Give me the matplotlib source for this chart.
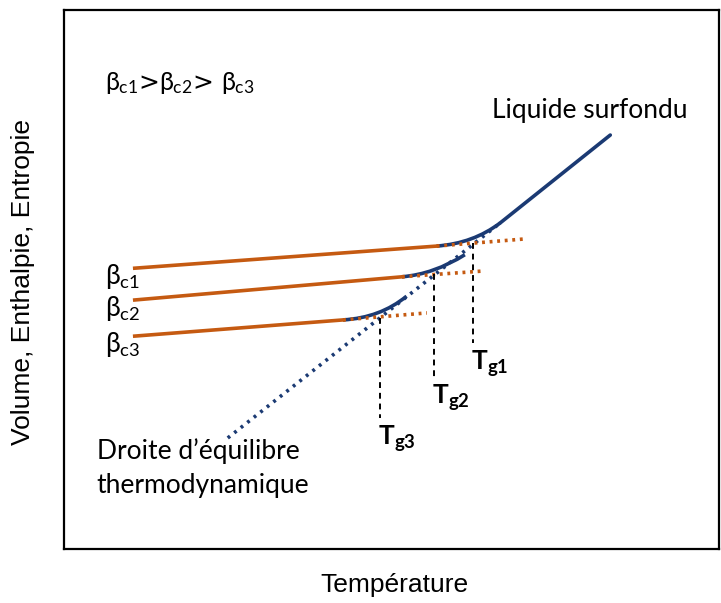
import numpy as np
import matplotlib.pyplot as plt
from matplotlib.path import Path
from matplotlib.patches import PathPatch

plt.rcParams['mathtext.fontset'] = 'custom'
plt.rcParams['mathtext.rm'] = 'Lato'
plt.rcParams['mathtext.bf'] = 'Lato:bold'
plt.rcParams['mathtext.it'] = 'Lato'  # keep greek upright like the original

# liquid / equilibrium line (temperature, property)
liq_x = [25.0, 66.6, 83.4]
liq_y = [20.6, 60.5, 76.8]

# glass lines for the three cooling rates: start, end of solid part, end of dotted part
glass_x = [[10.8, 56.9, 70.1], [10.8, 51.6, 64.3], [10.8, 42.6, 55.4]]
glass_y = [[52.1, 56.2, 57.5], [46.2, 50.5, 51.6], [39.5, 42.5, 43.8]]

# glass transition temperatures (intersections) and where the bend joins the liquid line
tg_x = [62.5, 56.5, 48.3]
tg_y = [56.7, 51.0, 42.9]
join_x = [66.6, 61.2, 52.3]
join_y = [60.5, 54.6, 46.9]
tg_bottom = [38.2, 31.9, 24.3]
tg_labels = [r'$\mathbf{T_{g1}}$', r'$\mathbf{T_{g2}}$', r'$\mathbf{T_{g3}}$']
beta_labels = [r'$\beta_{c1}$', r'$\beta_{c2}$', r'$\beta_{c3}$']

navy = '#1B3A73'
orange = '#C55A11'

fig = plt.figure(figsize=(7.21, 6.03), dpi=100)
ax = fig.add_axes([64 / 721, 1 - 549 / 603, 655 / 721, 539 / 603])
ax.set_xlim(0, 100)
ax.set_ylim(0, 100)
ax.set_xticks([])
ax.set_yticks([])
for s in ax.spines.values():
    s.set_linewidth(1.6)

# equilibrium line: dotted below the first bend, solid above
ax.plot(liq_x[:2], liq_y[:2], color=navy, lw=2.6, ls=(0, (0.8, 1.5)))
ax.plot(liq_x[1:], liq_y[1:], color=navy, lw=2.6, solid_capstyle='round')

for i in range(3):
    ax.plot(glass_x[i][:2], glass_y[i][:2], color=orange, lw=2.6)
    ax.plot(glass_x[i][1:], glass_y[i][1:], color=orange, lw=2.6, ls=(0, (0.8, 1.3)))
    # bend from the glass line to the liquid line
    verts = [(glass_x[i][1], glass_y[i][1]), (tg_x[i], tg_y[i]), (join_x[i], join_y[i])]
    p = Path(verts, [Path.MOVETO, Path.CURVE3, Path.CURVE3])
    ax.add_patch(PathPatch(p, fill=False, edgecolor=navy, lw=2.6, transform=ax.transData))
    ax.plot([tg_x[i], tg_x[i]], [tg_y[i], tg_bottom[i]], color='black', lw=1.4,
            ls=(0, (3, 2.5)))
    ax.text(tg_x[i] - 0.3, tg_bottom[i] - 1.0, tg_labels[i], fontsize=19, ha='left', va='top')
    ax.text(6.3, glass_y[i][0] - 1.5, beta_labels[i], fontsize=19, ha='left', va='center')

ax.text(6.3, 86.5, r'$\beta_{c1}$>$\beta_{c2}$> $\beta_{c3}$', fontsize=18, ha='left',
        va='center')
ax.text(65.3, 81.4, 'Liquide surfondu', fontsize=19, family='Lato', ha='left', va='center')
ax.text(5.0, 15.0, 'Droite d\u2019\u00e9quilibre\nthermodynamique', fontsize=19,
        family='Lato', ha='left', va='center', linespacing=1.45)

ax.set_xlabel('Température', fontsize=19, family='Liberation Sans')
ax.xaxis.set_label_coords(0.505, -0.067)
ax.xaxis.label.set_va('center')
ax.set_ylabel('Volume, Enthalpie, Entropie', fontsize=19, family='Liberation Sans')
ax.yaxis.set_label_coords(-0.062, 0.495)
ax.yaxis.label.set_va('center')

fig.savefig('out.png', dpi=100)
